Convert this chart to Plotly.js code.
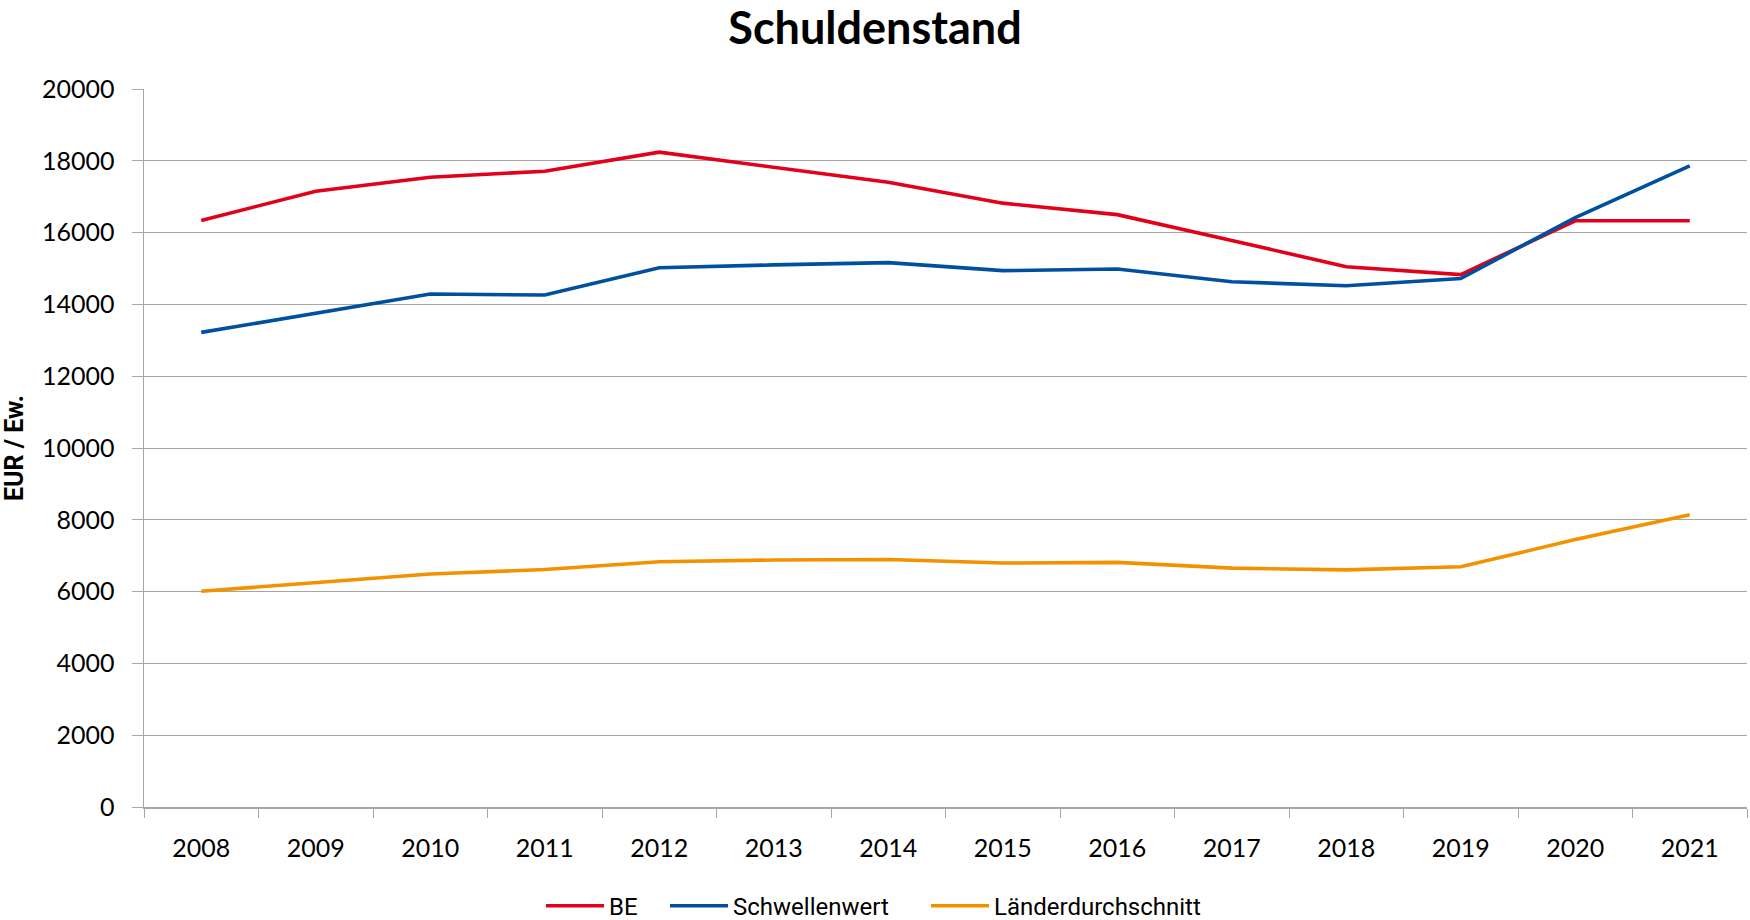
<!DOCTYPE html>
<html>
<head>
<meta charset="utf-8">
<script src="https://cdn.plot.ly/plotly-3.0.1.min.js"></script>
<style>html,body{margin:0;padding:0;background:#fff;}#chart{width:1750px;height:920px;}</style>
</head>
<body>
<div id="chart"></div>
<script>
const years = ['2008','2009','2010','2011','2012','2013','2014','2015','2016','2017','2018','2019','2020','2021'];
const be = [16340, 17150, 17540, 17710, 18240, 17820, 17400, 16820, 16500, 15780, 15050, 14830, 16330, 16330];
const schwellenwert = [13220, 13750, 14290, 14260, 15020, 15100, 15165, 14940, 14985, 14630, 14520, 14720, 16420, 17860];
const laenderdurchschnitt = [6010, 6245, 6490, 6615, 6830, 6880, 6895, 6795, 6815, 6655, 6605, 6690, 7450, 8140];
const yTicks = [0, 2000, 4000, 6000, 8000, 10000, 12000, 14000, 16000, 18000, 20000];

const traces = [
  {x: years, y: be, name: 'BE', type: 'scatter', mode: 'lines', line: {color: '#e2001a', width: 3.6}, legend: 'legend'},
  {x: years, y: schwellenwert, name: 'Schwellenwert', type: 'scatter', mode: 'lines', line: {color: '#0050a0', width: 3.6}, legend: 'legend2'},
  {x: years, y: laenderdurchschnitt, name: 'Länderdurchschnitt', type: 'scatter', mode: 'lines', line: {color: '#f39200', width: 3.6}, legend: 'legend3'}
];

const legFont = {family: 'Liberation Sans Narrow, Roboto, sans-serif', size: 24, color: '#000'};
function leg(x) {
  return {orientation: 'h', x: x, xanchor: 'left', xref: 'container', y: 0.015, yref: 'container', yanchor: 'middle',
          font: legFont, itemwidth: 58, bgcolor: 'rgba(0,0,0,0)'};
}

const layout = {
  width: 1750, height: 920,
  margin: {l: 144, r: 3, t: 89, b: 113},
  paper_bgcolor: '#fff', plot_bgcolor: '#fff',
  title: {text: '<b>Schuldenstand</b>', font: {family: 'Lato', size: 45, color: '#000'}, x: 0.5, xanchor: 'center', y: 0.969, yref: 'container', yanchor: 'middle'},
  showlegend: true,
  legend: leg(541 / 1750),
  legend2: leg(665 / 1750),
  legend3: leg(926 / 1750),
  xaxis: {type: 'category', range: [-0.5, 13.5], tickson: 'boundaries', ticks: 'outside', ticklen: 9, tickcolor: '#a6a6a6', tickwidth: 1,
          showline: true, linecolor: '#a6a6a6', linewidth: 1.5, showgrid: false, zeroline: false,
          tickfont: {family: 'Lato', size: 25, color: '#000'}, ticklabelstandoff: 18, fixedrange: true},
  yaxis: {range: [0, 20000], tickvals: yTicks, ticktext: yTicks.map(String), ticks: 'outside', ticklen: 11, tickcolor: '#a6a6a6',
          showline: true, linecolor: '#a6a6a6', linewidth: 1.5, showgrid: true, gridcolor: '#a6a6a6', gridwidth: 1, zeroline: false,
          tickfont: {family: 'Lato', size: 25, color: '#000'}, ticklabelstandoff: 12,
          title: {text: '<b>EUR / Ew.</b>', font: {family: 'Liberation Sans Narrow, Roboto, sans-serif', size: 25, color: '#000'}, standoff: 12}}
};

Plotly.newPlot('chart', traces, layout, {displayModeBar: false, staticPlot: true});
</script>
</body>
</html>
